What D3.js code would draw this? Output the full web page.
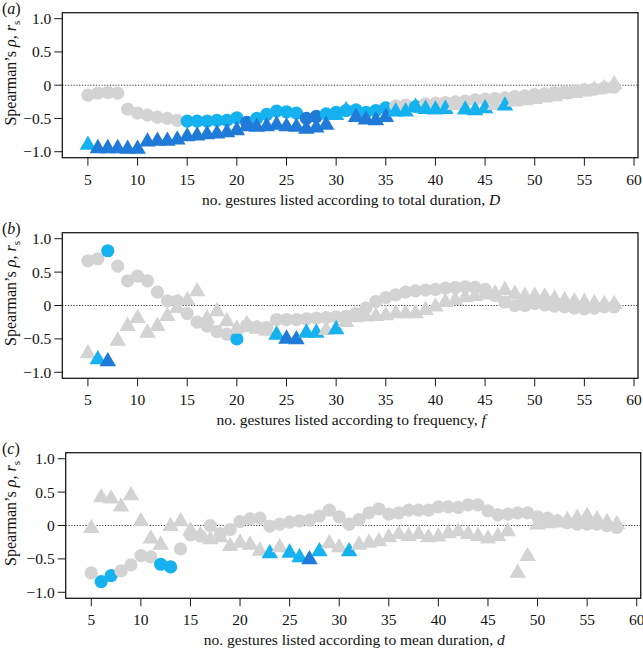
<!DOCTYPE html>
<html>
<head>
<meta charset="utf-8">
<script src="https://cdn.jsdelivr.net/npm/d3@7"></script>
<style>
  body { margin: 0; background: #fff; }
  text { font-family: "Liberation Serif", "Times New Roman", serif; fill: #111; }
</style>
</head>
<body>
<svg id="chart" width="643" height="649"></svg>
<script>
// number of gestures in the list
const gestures = [5, 6, 7, 8, 9, 10, 11, 12, 13, 14, 15, 16, 17, 18, 19, 20, 21, 22, 23, 24,
  25, 26, 27, 28, 29, 30, 31, 32, 33, 34, 35, 36, 37, 38, 39, 40, 41, 42, 43, 44,
  45, 46, 47, 48, 49, 50, 51, 52, 53, 54, 55, 56, 57, 58];

// (a) total duration
const aCircles = [-0.15, -0.12, -0.11, -0.12, -0.36, -0.42, -0.45, -0.48, -0.50, -0.53,
  -0.54, -0.54, -0.54, -0.53, -0.53, -0.49, -0.56, -0.50, -0.44, -0.39,
  -0.40, -0.42, -0.50, -0.47, -0.43, -0.41, -0.38, -0.37, -0.41, -0.38,
  -0.34, -0.31, -0.30, -0.32, -0.28, -0.27, -0.26, -0.25, -0.24, -0.22,
  -0.21, -0.20, -0.19, -0.17, -0.16, -0.14, -0.13, -0.11, -0.10, -0.08,
  -0.07, -0.06, -0.04, -0.03];
const aCircleSig = "000000000011111121111122111111100100000000000000000000";
const aTriangles = [-0.90, -0.95, -0.95, -0.95, -0.96, -0.96, -0.85, -0.84, -0.84, -0.82,
  -0.77, -0.76, -0.74, -0.73, -0.71, -0.68, -0.62, -0.63, -0.62, -0.60,
  -0.62, -0.63, -0.66, -0.64, -0.60, -0.45, -0.38, -0.48, -0.52, -0.53,
  -0.48, -0.40, -0.40, -0.33, -0.36, -0.37, -0.36, -0.30, -0.37, -0.38,
  -0.35, -0.30, -0.31, -0.25, -0.23, -0.21, -0.19, -0.17, -0.14, -0.12,
  -0.10, -0.07, -0.05, 0.01];
const aTriangleSig = "122222222222222222222222211222211111101110100000000000";

// (b) frequency
const bCircles = [0.67, 0.70, 0.82, 0.59, 0.37, 0.44, 0.37, 0.20, 0.07, 0.07,
  -0.12, -0.25, -0.31, -0.39, -0.43, -0.50, -0.30, -0.32, -0.33, -0.21,
  -0.21, -0.21, -0.20, -0.19, -0.18, -0.17, -0.16, -0.12, -0.04, 0.06,
  0.12, 0.16, 0.20, 0.22, 0.23, 0.24, 0.26, 0.27, 0.28, 0.27,
  0.24, 0.15, 0.05, 0.00, 0.00, 0.03, 0.01, -0.01, -0.02, -0.04,
  -0.05, -0.04, -0.02, -0.02];
const bCircleSig = "001000000000000100000000000000000000000000000000000000";
const bTriangles = [-0.72, -0.81, -0.84, -0.53, -0.31, -0.19, -0.41, -0.31, -0.16, -0.04,
  0.08, 0.21, -0.20, -0.09, -0.24, -0.35, -0.28, -0.35, -0.38, -0.44,
  -0.50, -0.51, -0.41, -0.41, -0.37, -0.36, -0.25, -0.18, -0.17, -0.16,
  -0.15, -0.12, -0.12, -0.12, -0.07, -0.02, 0.05, 0.08, 0.12, 0.14,
  0.16, 0.18, 0.23, 0.17, 0.14, 0.14, 0.13, 0.10, 0.08, 0.06,
  0.05, 0.03, 0.02, 0.02];
const bTriangleSig = "012000000000000000012211010000000000000000000000000000";

// (c) mean duration
const cCircles = [-0.71, -0.84, -0.75, -0.68, -0.59, -0.45, -0.47, -0.58, -0.62, -0.35,
  -0.14, -0.16, 0.00, -0.12, -0.06, 0.06, 0.10, 0.11, -0.01, 0.02,
  0.05, 0.07, 0.08, 0.14, 0.23, 0.13, 0.02, 0.09, 0.19, 0.25,
  0.17, 0.19, 0.23, 0.23, 0.23, 0.28, 0.28, 0.27, 0.31, 0.31,
  0.22, 0.16, 0.17, 0.19, 0.19, 0.13, 0.11, 0.07, 0.04, 0.02,
  0.02, 0.02, 0.00, -0.03];
const cCircleSig = "011000011000000000000000000000000000000000000000000000";
const cTriangles = [-0.04, 0.42, 0.40, 0.28, 0.45, 0.06, -0.20, -0.29, -0.01, 0.06,
  -0.08, -0.15, -0.21, -0.18, -0.31, -0.26, -0.29, -0.38, -0.42, -0.33,
  -0.41, -0.48, -0.51, -0.39, -0.27, -0.33, -0.39, -0.29, -0.26, -0.24,
  -0.18, -0.13, -0.16, -0.13, -0.18, -0.17, -0.12, -0.09, -0.13, -0.16,
  -0.20, -0.16, -0.09, -0.71, -0.46, 0.01, 0.03, 0.04, 0.08, 0.11,
  0.14, 0.09, 0.05, 0.02];
const cTriangleSig = "000000000000000000101121001000000000000000000000000000";

const xTicks = [5, 10, 15, 20, 25, 30, 35, 40, 45, 50, 55, 60];
const yTicks = [-1, -0.5, 0, 0.5, 1];
const yTickLabels = ["\u22121.0", "\u22120.5", "0", "0.5", "1.0"];

// 0 = not significant, 1 = significant, 2 = strongly significant
const colours = ["#d3d3d3", "#16b1ef", "#1f7ad8"];

const panels = [
  { tag: "a", circles: aCircles, circleSig: aCircleSig, triangles: aTriangles, triangleSig: aTriangleSig,
    xlab: "no. gestures listed according to total duration, ", xsym: "D",
    left: 62.3, right: 638, top: 12.7, bottom: 157.7 },
  { tag: "b", circles: bCircles, circleSig: bCircleSig, triangles: bTriangles, triangleSig: bTriangleSig,
    xlab: "no. gestures listed according to frequency, ", xsym: "f",
    left: 62.3, right: 638, top: 232.7, bottom: 378.3 },
  { tag: "c", circles: cCircles, circleSig: cCircleSig, triangles: cTriangles, triangleSig: cTriangleSig,
    xlab: "no. gestures listed according to mean duration, ", xsym: "d",
    left: 65.7, right: 640.7, top: 452.7, bottom: 598.3 }
];

const svg = d3.select("#chart");
const circleSym = d3.symbol().type(d3.symbolCircle).size(Math.PI * 6.6 * 6.6);
const triangleSym = d3.symbol().type(d3.symbolTriangle).size(118);

panels.forEach((p) => {
  const x = d3.scaleLinear().domain([2.42, 60.4]).range([p.left, p.right]);
  const y = d3.scaleLinear().domain([-1.09, 1.09]).range([p.bottom, p.top]);
  const g = svg.append("g");

  // zero reference line
  g.append("line")
    .attr("x1", p.left).attr("x2", p.right)
    .attr("y1", y(0)).attr("y2", y(0))
    .attr("stroke", "#222").attr("stroke-width", 0.9)
    .attr("stroke-dasharray", "1.2,1.6");

  // circles first, triangles on top
  g.selectAll(".circ")
    .data(gestures)
    .enter()
    .append("path")
    .attr("transform", (d, i) => `translate(${x(d)},${y(p.circles[i])})`)
    .attr("d", circleSym)
    .attr("fill", (d, i) => colours[+p.circleSig[i]]);

  g.selectAll(".tri")
    .data(gestures)
    .enter()
    .append("path")
    .attr("transform", (d, i) => `translate(${x(d)},${y(p.triangles[i])})`)
    .attr("d", triangleSym)
    .attr("fill", (d, i) => colours[+p.triangleSig[i]]);

  // frame
  g.append("rect")
    .attr("x", p.left).attr("y", p.top)
    .attr("width", p.right - p.left).attr("height", p.bottom - p.top)
    .attr("fill", "none").attr("stroke", "#1a1a1a").attr("stroke-width", 1.3);

  // y axis
  yTicks.forEach((t, i) => {
    g.append("line")
      .attr("x1", p.left - 8).attr("x2", p.left)
      .attr("y1", y(t)).attr("y2", y(t))
      .attr("stroke", "#1a1a1a").attr("stroke-width", 1);
    g.append("text")
      .attr("x", p.left - 11).attr("y", y(t) + 5.5)
      .attr("text-anchor", "end")
      .style("font-size", "15.5px")
      .text(yTickLabels[i]);
  });

  // x axis
  xTicks.forEach((t) => {
    g.append("line")
      .attr("x1", x(t)).attr("x2", x(t))
      .attr("y1", p.bottom).attr("y2", p.bottom + 8)
      .attr("stroke", "#1a1a1a").attr("stroke-width", 1);
    g.append("text")
      .attr("x", x(t)).attr("y", p.bottom + 27)
      .attr("text-anchor", "middle")
      .style("font-size", "15.5px")
      .text(t);
  });

  // x label
  const xl = g.append("text")
    .attr("x", (p.left + p.right) / 2 + 1).attr("y", p.bottom + 47)
    .attr("text-anchor", "middle")
    .style("font-size", "15.5px");
  xl.append("tspan").text(p.xlab);
  xl.append("tspan").style("font-style", "italic").text(p.xsym);

  // y label
  const yl = g.append("text")
    .attr("transform", `translate(16,${(p.top + p.bottom) / 2 - 12}) rotate(-90)`)
    .attr("text-anchor", "middle")
    .style("font-size", "16px");
  yl.append("tspan").text("Spearman\u2019s ");
  yl.append("tspan").style("font-style", "italic").text("\u03c1");
  yl.append("tspan").text(", ");
  yl.append("tspan").style("font-style", "italic").text("r");
  yl.append("tspan").attr("dy", 4).style("font-size", "11px").text("s");

  // panel tag
  const tg = svg.append("text")
    .attr("x", 2).attr("y", p.top + 1)
    .style("font-size", "16px");
  tg.append("tspan").text("(");
  tg.append("tspan").style("font-style", "italic").text(p.tag);
  tg.append("tspan").text(")");
});
</script>
</body>
</html>
